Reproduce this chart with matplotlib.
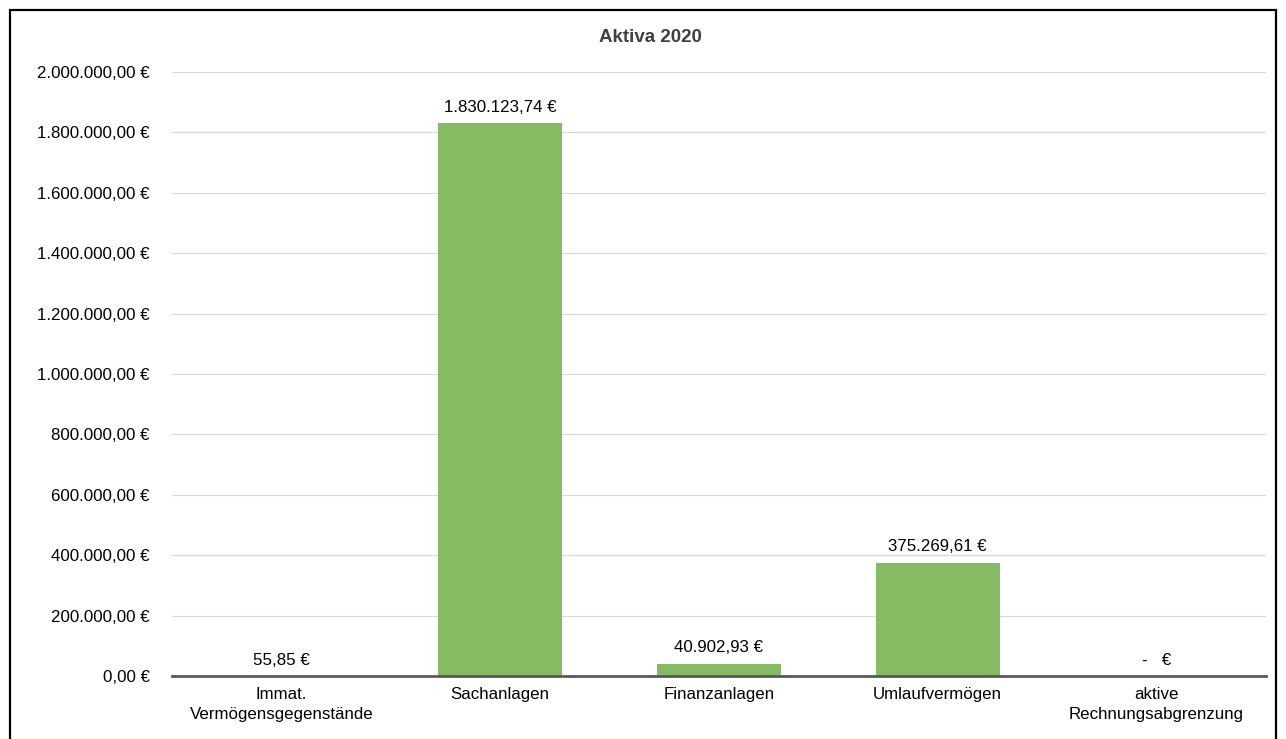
import matplotlib.pyplot as plt
from matplotlib.patches import Rectangle

plt.rcParams["font.family"] = ["Liberation Sans", "DejaVu Sans"]

# --------------------------------------------------
# Data
# --------------------------------------------------
categories = [
    "Immat.\nVermögensgegenstände",
    "Sachanlagen",
    "Finanzanlagen",
    "Umlaufvermögen",
    "aktive\nRechnungsabgrenzung",
]
values = [55.85, 1830123.74, 40902.93, 375269.61, 0.0]
y_ticks = [0, 200000, 400000, 600000, 800000, 1000000,
           1200000, 1400000, 1600000, 1800000, 2000000]


def euro(v):
    if v == 0:
        return "-   €"
    s = f"{v:,.2f}".replace(",", "X").replace(".", ",").replace("X", ".")
    return s + " €"


def tick_euro(v):
    s = f"{v:,.2f}".replace(",", "X").replace(".", ",").replace("X", ".")
    return s + " €"


# --------------------------------------------------
# Figure
# --------------------------------------------------
fig = plt.figure(figsize=(12.86, 7.39), dpi=100)
ax = fig.add_axes([0.1337, 0.0853, 0.8507, 0.8173])

x = range(len(categories))
ax.bar(x, values, width=0.565, color="#85BB62", zorder=3)

ax.set_xlim(-0.5, len(categories) - 0.5)
ax.set_ylim(0, 2000000)
ax.set_yticks(y_ticks)
ax.set_yticklabels([tick_euro(v) for v in y_ticks], fontsize=12.2)
ax.set_xticks(list(x))
ax.set_xticklabels(categories, fontsize=12.2, linespacing=1.45)
ax.tick_params(axis="both", length=0, colors="black")
ax.tick_params(axis="y", pad=16)
ax.tick_params(axis="x", pad=8)

ax.grid(axis="y", color="#d9d9d9", linewidth=0.9, zorder=0)
for side in ["top", "right", "left"]:
    ax.spines[side].set_visible(False)
ax.spines["bottom"].set_color("#595959")
ax.spines["bottom"].set_linewidth(2)
ax.spines["bottom"].set_zorder(4)

for xi, v in zip(x, values):
    ax.annotate(euro(v), (xi, v), xytext=(0, 6), textcoords="offset points",
                ha="center", va="bottom", fontsize=12.2)

fig.text(0.5055, 0.9486, "Aktiva 2020", ha="center", va="center",
         fontsize=13.5, fontweight="bold", color="#404040")

# outer frame
fig.patches.append(Rectangle((0.0078, -0.05), 0.9844, 1.0365, transform=fig.transFigure,
                             fill=False, edgecolor="black", linewidth=1.6))

plt.savefig("out.png", dpi=100)
plt.close()
